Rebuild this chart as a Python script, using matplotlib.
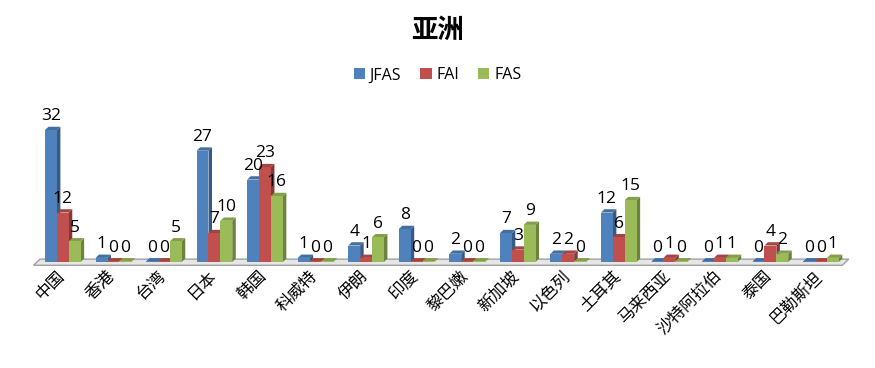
import matplotlib
matplotlib.use("Agg")
import matplotlib.pyplot as plt
import matplotlib.transforms as mtransforms
import numpy as np
from matplotlib.patches import Polygon, Rectangle
from matplotlib.colors import to_rgb

plt.rcParams['font.family'] = ['Noto Sans CJK SC', 'DejaVu Sans']

countries = ["中国", "香港", "台湾", "日本", "韩国", "科威特", "伊朗", "印度",
             "黎巴嫩", "新加坡", "以色列", "土耳其", "马来西亚", "沙特阿拉伯",
             "泰国", "巴勒斯坦"]
jfas = [32, 1, 0, 27, 20, 1, 4, 8, 2, 7, 2, 12, 0, 0, 0, 0]
fai = [12, 0, 0, 7, 23, 0, 1, 0, 0, 3, 2, 6, 1, 1, 4, 0]
fas = [5, 0, 5, 10, 16, 0, 6, 0, 0, 9, 0, 15, 0, 1, 2, 1]

series = [("JFAS", jfas, "#4f81bd"), ("FAI", fai, "#c0504d"), ("FAS", fas, "#9bbb59")]


def shade(c, f):
    r, g, b = to_rgb(c)
    return (r * f, g * f, b * f)


fig = plt.figure(figsize=(8.75, 3.68), dpi=100)
ax = fig.add_axes([0.04, 0.288, 0.93, 0.381])
n = len(countries)
x = np.arange(n)
w = 0.235
dx, dy = 0.07, 0.8  # fake depth

ax.set_xlim(-0.55, n - 0.45)
ax.set_ylim(0, 34)

# floor
floor = Polygon([(-0.58, -0.8), (n - 0.58, -0.8), (n - 0.45, 0.7), (-0.45, 0.7)],
                closed=True, facecolor="#e6e6e6", edgecolor="#a0a0a0", lw=1,
                clip_on=False, zorder=1)
ax.add_patch(floor)

handles = []
for i, (name, vals, col) in enumerate(series):
    xs = x + (i - 1) * w
    for xi, v in zip(xs, vals):
        h = max(v, 0.15)
        left = xi - w / 2
        side = Polygon([(left + w, 0), (left + w + dx, dy), (left + w + dx, h + dy), (left + w, h)],
                       closed=True, facecolor=shade(col, 0.7), edgecolor="none",
                       clip_on=False, zorder=3)
        top = Polygon([(left, h), (left + dx, h + dy), (left + w + dx, h + dy), (left + w, h)],
                      closed=True, facecolor=shade(col, 0.85), edgecolor="none",
                      clip_on=False, zorder=3)
        ax.add_patch(side)
        ax.add_patch(top)
        ax.add_patch(Rectangle((left, 0), w, h, facecolor=col, edgecolor="none",
                               clip_on=False, zorder=4))
        ax.text(xi, v + 1.4, str(v), ha="center", va="bottom", fontsize=12.5,
                family=["Open Sans", "DejaVu Sans"], zorder=5)
    handles.append(Rectangle((0, 0), 1, 1, facecolor=col, label=name))

ax.set_xticks(x)
ax.set_xticklabels(countries, rotation=45, ha="right", rotation_mode="anchor", fontsize=12)
ax.tick_params(axis="x", length=0, pad=4)
shift = mtransforms.ScaledTranslation(-7 / 100, 0, fig.dpi_scale_trans)
for lab in ax.get_xticklabels():
    lab.set_transform(lab.get_transform() + shift)
ax.set_yticks([])
for s in ax.spines.values():
    s.set_visible(False)

fig.suptitle("亚洲", y=0.955, fontsize=19, fontweight="bold")
fig.legend(handles=handles, loc="center", bbox_to_anchor=(0.5, 0.795), ncol=3, frameon=False,
           handlelength=0.7, handleheight=0.7, handletextpad=0.3, columnspacing=1.2,
           prop={"family": ["Open Sans", "DejaVu Sans"], "size": 11.5})

fig.savefig("out.png", dpi=100)
